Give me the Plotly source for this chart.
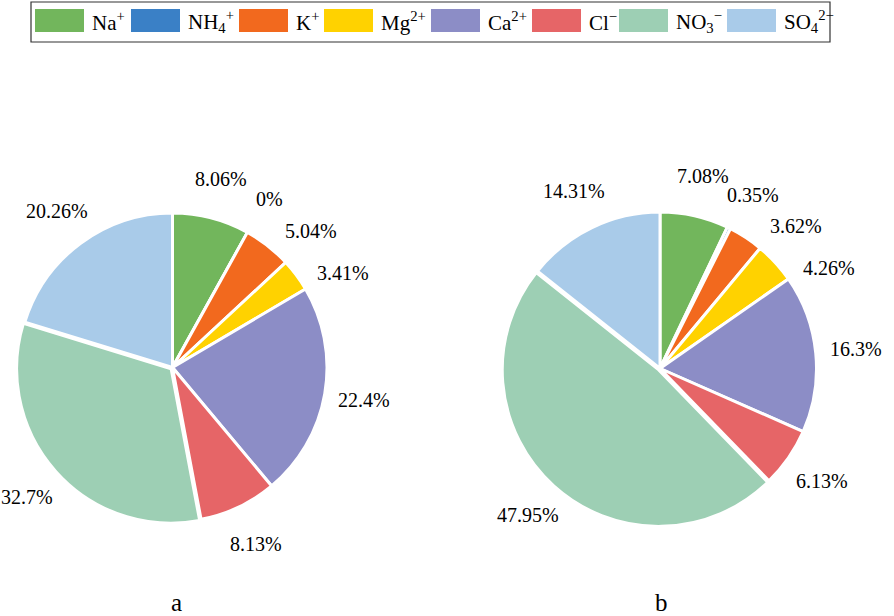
import math
import plotly.graph_objects as go

W, H = 894, 616

ions = ["Na<sup>+</sup>", "NH<sub>4</sub><sup>+</sup>", "K<sup>+</sup>", "Mg<sup>2+</sup>",
        "Ca<sup>2+</sup>", "Cl<sup>−</sup>", "NO<sub>3</sub><sup>−</sup>", "SO<sub>4</sub><sup>2−</sup>"]
colors = ["#72b65c", "#3a80c6", "#f2691e", "#ffd200", "#8c8dc6", "#e66567", "#9dcfb4", "#a9cbe9"]
values_a = [8.06, 0, 5.04, 3.41, 22.4, 8.13, 32.7, 20.26]
values_b = [7.08, 0.35, 3.62, 4.26, 16.3, 6.13, 47.95, 14.31]
panel_labels = ["a", "b"]

FONT = "Liberation Serif"

def px_x(x):
    return x / W

def px_y(y):
    return 1 - y / H

# layout geometry (pixels): centre x, centre y, radius
pies = [
    dict(values=values_a, cx=172.5, cy=367.5, r=154.5),
    dict(values=values_b, cx=660.0, cy=368.5, r=156.5),
]
PULL_NO3 = 0.012
pull = [0, 0, 0, 0, 0, 0, PULL_NO3, 0]

fig = go.Figure()
annotations = []

for p in pies:
    half = p["r"] * (1 + PULL_NO3)
    fig.add_trace(go.Pie(
        labels=ions, values=p["values"], sort=False, direction="clockwise",
        marker=dict(colors=colors, line=dict(color="white", width=3)),
        textinfo="none", pull=pull, showlegend=False,
        domain=dict(x=[px_x(p["cx"] - half), px_x(p["cx"] + half)],
                    y=[px_y(p["cy"] + half), px_y(p["cy"] - half)]),
    ))
    # outside percentage labels, placed along each slice's mid-angle
    total = sum(p["values"])
    cum = 0.0
    angles = []
    for v in p["values"]:
        angles.append((cum + v / 2) / total * 360.0)
        cum += v
    MIN_SEP = 15.5
    for i in range(1, len(angles)):
        if angles[i] < 180 and angles[i] - angles[i - 1] < MIN_SEP:
            angles[i] = angles[i - 1] + MIN_SEP
    dist = p["r"] * 1.26
    for v, a in zip(p["values"], angles):
        rad = math.radians(a)
        x = p["cx"] + dist * math.sin(rad)
        y = p["cy"] - dist * math.cos(rad)
        annotations.append(dict(text=f"{v:g}%", xref="paper", yref="paper",
                                x=px_x(x), y=px_y(y), xanchor="center", yanchor="middle",
                                showarrow=False, font=dict(family=FONT, size=20, color="black")))

# Custom legend box
shapes = [dict(type="rect", xref="paper", yref="paper",
               x0=px_x(31), x1=px_x(830), y0=px_y(42), y1=px_y(2),
               line=dict(color="#333333", width=1.2), fillcolor="white", layer="below")]
swatch_x = [35, 131, 239, 324, 431, 532, 619, 727]
for i, (name, col) in enumerate(zip(ions, colors)):
    x0 = swatch_x[i]
    shapes.append(dict(type="rect", xref="paper", yref="paper",
                       x0=px_x(x0), x1=px_x(x0 + 49), y0=px_y(32), y1=px_y(9),
                       line=dict(width=0), fillcolor=col))
    annotations.append(dict(text=name, xref="paper", yref="paper",
                            x=px_x(x0 + 55), y=px_y(22), xanchor="left", yanchor="middle",
                            showarrow=False, font=dict(family=FONT, size=21, color="black")))

for lab, cx in zip(panel_labels, [176, 661]):
    annotations.append(dict(text=lab, xref="paper", yref="paper",
                            x=px_x(cx), y=px_y(602), xanchor="center", yanchor="middle",
                            showarrow=False, font=dict(family=FONT, size=25, color="black")))

fig.update_layout(
    width=W, height=H,
    margin=dict(l=0, r=0, t=0, b=0),
    paper_bgcolor="white", plot_bgcolor="white",
    shapes=shapes, annotations=annotations,
    font=dict(family=FONT),
)

fig.write_html("out.html", config={"displayModeBar": False},
               post_script="document.body.style.margin='0px';document.body.style.overflow='hidden';")
